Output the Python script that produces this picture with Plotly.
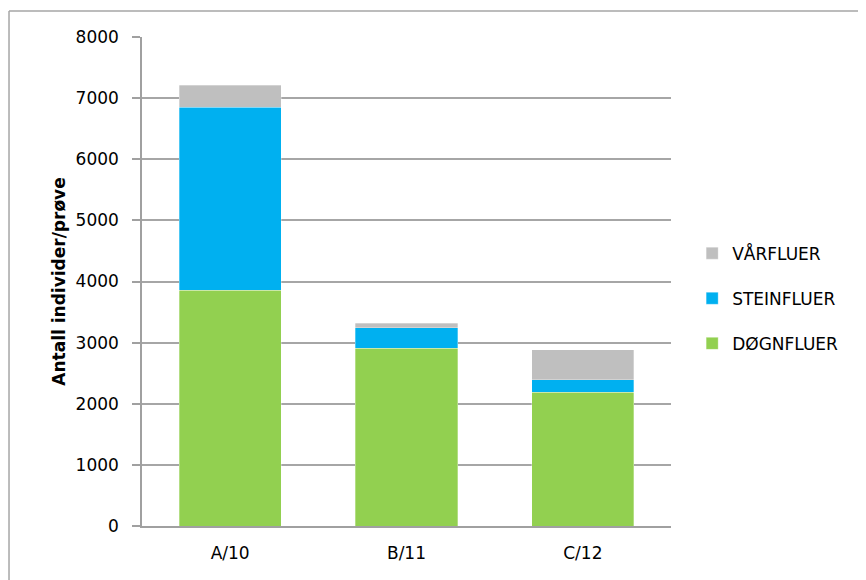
import plotly.graph_objects as go

categories = ["A/10", "B/11", "C/12"]
dognfluer = [3860, 2910, 2190]
steinfluer = [2990, 335, 205]
varfluer = [360, 72, 490]
y_ticks = [0, 1000, 2000, 3000, 4000, 5000, 6000, 7000, 8000]

series = [
    ("DØGNFLUER", dognfluer, "#92D050", 3),
    ("STEINFLUER", steinfluer, "#00B0F0", 2),
    ("VÅRFLUER", varfluer, "#BFBFBF", 1),
]

fig = go.Figure()
for name, vals, col, rank in series:
    fig.add_trace(go.Bar(
        x=categories, y=vals, name=name, legendgroup=name, legendrank=rank,
        marker=dict(color=col, line=dict(width=0.5, color="rgba(255,255,255,0.6)")),
    ))

FONT = "DejaVu Sans, sans-serif"

fig.update_layout(
    barmode="stack",
    bargap=0.42,
    width=866, height=580,
    margin=dict(l=134, r=203, t=29, b=62),
    paper_bgcolor="white", plot_bgcolor="white",
    font=dict(family=FONT, size=17, color="#000000"),
    showlegend=True,
    legend=dict(
        x=1.04, y=0.465, xanchor="left", yanchor="middle",
        traceorder="grouped", tracegroupgap=20,
        font=dict(size=17), itemwidth=30,
    ),
    xaxis=dict(
        showgrid=False, showline=True, linecolor="#A0A0A0", linewidth=1.5,
        ticks="", tickfont=dict(size=17), ticklabelstandoff=11,
    ),
    yaxis=dict(
        range=[0, 8000], tickvals=y_ticks,
        showgrid=True, gridcolor="#A6A6A6", gridwidth=1.5,
        showline=True, linecolor="#A0A0A0", linewidth=1.5,
        ticks="outside", ticklen=8, tickcolor="#A0A0A0", tickwidth=1.5,
        tickfont=dict(size=17), zeroline=False, ticklabelstandoff=10,
        title=dict(text="<b>Antall individer/prøve</b>", font=dict(size=17), standoff=6),
    ),
    shapes=[
        dict(type="line", xref="paper", yref="paper", x0=-0.2514, x1=1.5, y0=1.0532, y1=1.0532,
             line=dict(color="#A6A6A6", width=1.5)),
        dict(type="line", xref="paper", yref="paper", x0=-0.2514, x1=-0.2514, y0=1.0532, y1=-0.2,
             line=dict(color="#A6A6A6", width=1.5)),
    ],
)

fig.write_html("out.html")
